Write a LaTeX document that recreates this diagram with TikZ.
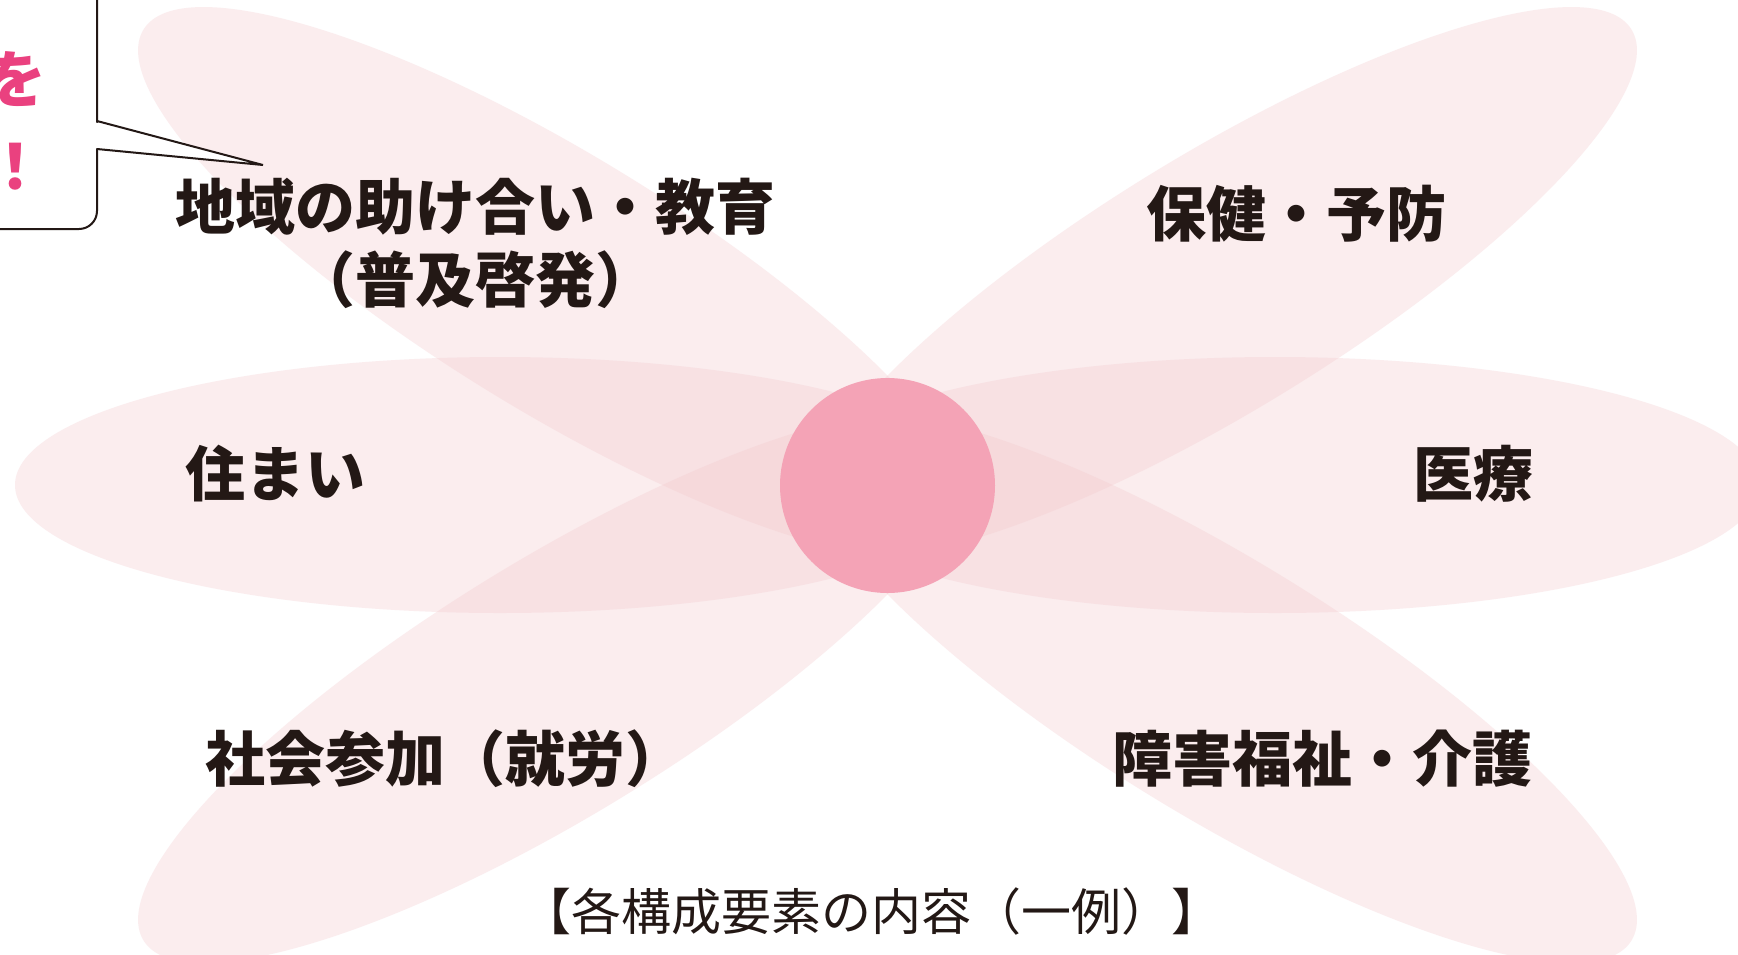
\documentclass[tikz,border=0pt]{standalone}
\usepackage{fontspec}
\newfontfamily\jp{Noto Sans CJK JP}
\definecolor{petalc}{RGB}{243,201,205}
\definecolor{corec}{RGB}{244,163,182}
\definecolor{inkc}{RGB}{35,24,21}
\definecolor{callc}{RGB}{234,65,127}
\tikzset{
  petal/.style={fill=petalc, fill opacity=0.33},
  lab/.style={inner sep=0pt, text=inkc, font=\jp\bfseries\fontsize{60pt}{73pt}\selectfont, align=center},
  captext/.style={inner sep=0pt, text=inkc, font=\jp\fontsize{50pt}{54pt}\selectfont},
  calltext/.style={inner sep=0pt, text=callc, font=\jp\bfseries\fontsize{62pt}{70pt}\selectfont},
  callline/.style={draw=inkc, line width=2pt}
}
\begin{document}
\begin{tikzpicture}[x=1pt,y=-1pt]
\useasboundingbox (0,0) rectangle (1738,954);
\clip (0,0) rectangle (1738,954);
\fill[white] (0,0) rectangle (1738,954);
% petals
\fill[petal] (500,485) ellipse [x radius=485, y radius=128];
\fill[petal] (1275,485) ellipse [x radius=485, y radius=128];
\fill[petal, rotate around={-31.5:(557,283)}] (557,283) ellipse [x radius=485, y radius=128];
\fill[petal, rotate around={31.5:(1218,283)}] (1218,283) ellipse [x radius=485, y radius=128];
\fill[petal, rotate around={31.5:(557,687)}] (557,687) ellipse [x radius=485, y radius=128];
\fill[petal, rotate around={-31.5:(1218,687)}] (1218,687) ellipse [x radius=485, y radius=128];
% core
\node[circle, fill=corec, minimum size=215pt, inner sep=0pt] (core) at (887.5,485.5) {};
% labels
\node[lab] (chiiki) at (475,243.5) {地域の助け合い・教育\\（普及啓発）};
\node[lab] (hoken) at (1296,214) {保健・予防};
\node[lab] (sumai) at (275,474) {住まい};
\node[lab] (iryo) at (1473,474) {医療};
\node[lab] (shakai) at (445,759) {社会参加（就労）};
\node[lab] (shogai) at (1322,759) {障害福祉・介護};
\node[captext] (caption) at (871,911) {【各構成要素の内容（一例）】};
% callout
\draw[callline, fill=white, rounded corners=18pt] (-60,-60) rectangle (97,229);
\fill[white] (94,122) -- (263,165) -- (94,148) -- cycle;
\coordinate (tip) at (263,165);
\coordinate (t1) at (97,121);
\coordinate (t2) at (97,149);
\draw[callline, line join=miter] (t1) -- (tip) -- (t2);
\node[calltext] (wo) at (15,79) {を};
\node[calltext] (excl) at (16,167) {！};
\end{tikzpicture}
\end{document}
